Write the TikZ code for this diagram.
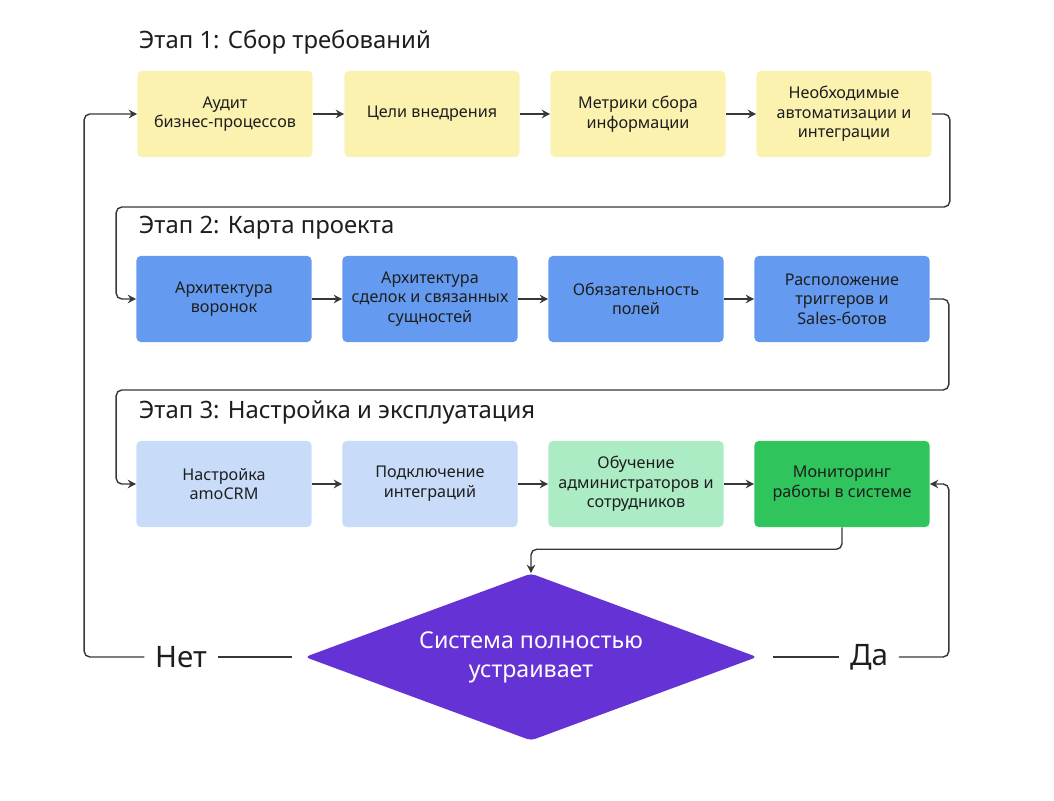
\documentclass[tikz,border=0pt]{standalone}
\usepackage{fontspec}
\setmainfont{Noto Sans}
\definecolor{reqyellow}{RGB}{251,242,176}
\definecolor{mapblue}{RGB}{100,155,240}
\definecolor{setblue}{RGB}{200,220,250}
\definecolor{trainggreen}{RGB}{172,236,196}
\definecolor{mongreen}{RGB}{47,197,92}
\definecolor{decpurple}{RGB}{101,50,214}
\definecolor{linegray}{RGB}{55,55,55}
\definecolor{boxtext}{RGB}{30,30,30}
\usepackage{tikz}
\usetikzlibrary{shapes,arrows,arrows.meta,positioning,calc}

\begin{document}
\begin{tikzpicture}[x=0.025cm, y=-0.025cm,
    box/.style={rounded corners=3pt, minimum width=4.375cm, minimum height=2.15cm, align=center, text=boxtext, font=\fontsize{11.5}{14}\selectfont},
    stage/.style={anchor=west, text=boxtext, font=\fontsize{17}{20}\selectfont},
    flow/.style={-{Stealth[length=6pt, width=6pt]}, line width=1pt, draw=linegray, rounded corners=4pt},
    wire/.style={line width=1pt, draw=linegray, rounded corners=4pt},
    answer/.style={text=boxtext, inner xsep=7.5pt, font=\fontsize{21}{24}\selectfont}]
    \useasboundingbox (0,0) rectangle (1054,801);
    % stage 1
    \node[stage] (st1) at (134,42) {Этап 1: Сбор требований};
    \node[box, fill=reqyellow] (aud) at (225,114) {Аудит\\бизнес-процессов};
    \node[box, fill=reqyellow] (goal) at (432,114) {Цели внедрения};
    \node[box, fill=reqyellow] (metr) at (638,114) {Метрики сбора\\информации};
    \node[box, fill=reqyellow] (auto) at (844,114) {Необходимые\\автоматизации и\\интеграции};
    % stage 2
    \node[stage] (st2) at (134,228) {Этап 2: Карта проекта};
    \node[box, fill=mapblue] (fun) at (224,299) {Архитектура\\воронок};
    \node[box, fill=mapblue] (deal) at (430,299) {Архитектура\\сделок и связанных\\сущностей};
    \node[box, fill=mapblue] (field) at (636,299) {Обязательность\\полей};
    \node[box, fill=mapblue] (trig) at (842,299) {Расположение\\триггеров и\\Sales-ботов};
    % stage 3
    \node[stage] (st3) at (134,413) {Этап 3: Настройка и эксплуатация};
    \node[box, fill=setblue] (setup) at (224,484) {Настройка\\amoCRM};
    \node[box, fill=setblue] (integ) at (430,484) {Подключение\\интеграций};
    \node[box, fill=trainggreen] (train) at (636,484) {Обучение\\администраторов и\\сотрудников};
    \node[box, fill=mongreen] (mon) at (842,484) {Мониторинг\\работы в системе};
    % decision
    \node[diamond, shape aspect=2.7, fill=decpurple, text=white, inner sep=0pt, minimum width=11.3cm, minimum height=4.175cm, rounded corners=3pt, align=center, font=\fontsize{16.5}{20.6}\selectfont] (dec) at (531,657) {Система полностью\\устраивает};
    \node[answer] (no) at (181,657) {Нет};
    \node[answer] (yes) at (869,657) {Да};
    % arrows
    \draw[flow] (aud) -- (goal);
    \draw[flow] (goal) -- (metr);
    \draw[flow] (metr) -- (auto);
    \draw[flow] (auto.east) -- ++(18,0) -- ++(0,93) -| ([xshift=-0.5cm]fun.west) -- (fun.west);
    \draw[flow] (fun) -- (deal);
    \draw[flow] (deal) -- (field);
    \draw[flow] (field) -- (trig);
    \draw[flow] (trig.east) -- ++(19,0) -- ++(0,91) -| ([xshift=-0.5cm]setup.west) -- (setup.west);
    \draw[flow] (setup) -- (integ);
    \draw[flow] (integ) -- (train);
    \draw[flow] (train) -- (mon);
    \draw[flow] (mon.south) -- ++(0,22) -| (dec.north);
    \draw[wire, shorten <=11pt] (dec.east) -- (yes.west);
    \draw[flow] (yes.east) -| ([xshift=0.475cm]mon.east) -- (mon.east);
    \draw[wire, shorten <=9pt] (dec.west) -- (no.east);
    \draw[flow] (no.west) -| ([xshift=-1.325cm]aud.west) -- (aud.west);
\end{tikzpicture}
\end{document}
